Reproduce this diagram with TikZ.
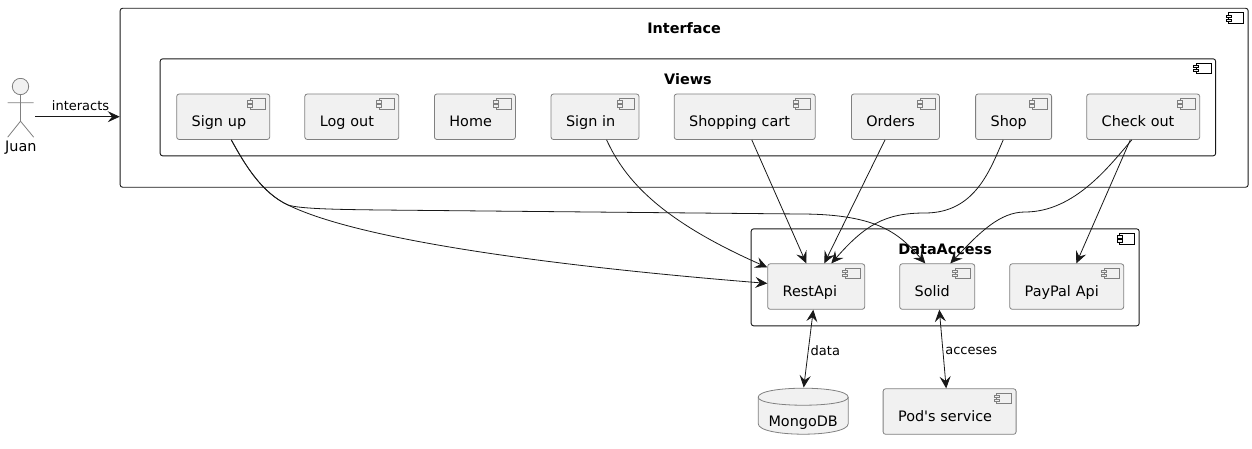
\documentclass[tikz,border=0pt]{standalone}
\usepackage{fontspec}
\setmainfont{DejaVu Sans}[Ligatures=TeXOff]
\usetikzlibrary{arrows.meta}
\definecolor{boxfill}{HTML}{F1F1F1}
\definecolor{boxline}{HTML}{808080}
\definecolor{inkline}{HTML}{181818}
\begin{document}
\begin{tikzpicture}[x=1pt,y=-1pt]
\tikzset{compicon/.style={path picture={
  \draw[#1,line width=0.7pt,sharp corners,fill=none] ([shift={(-19.5,4.5)}]path picture bounding box.north east) rectangle ([shift={(-4.5,15)}]path picture bounding box.north east);
  \draw[#1,line width=0.7pt,sharp corners,fill=boxfill] ([shift={(-22,6.8)}]path picture bounding box.north east) rectangle ([shift={(-17,9)}]path picture bounding box.north east);
  \draw[#1,line width=0.7pt,sharp corners,fill=boxfill] ([shift={(-22,10.8)}]path picture bounding box.north east) rectangle ([shift={(-17,13)}]path picture bounding box.north east);
}}}
\tikzset{compo/.style={draw=boxline, fill=boxfill, line width=0.8pt, rounded corners=2.5pt, anchor=north west, inner ysep=0pt, inner xsep=15pt, align=left, text width=#1-30pt, text height=33pt, text depth=12.5pt, compicon=boxline}}
\tikzset{groupe/.style 2 args={draw=inkline, line width=0.9pt, rounded corners=2.5pt, anchor=north west, inner sep=0pt, align=center, font=\bfseries, text width=#1, text height=25.5pt, text depth=#2-25.5pt, compicon=black}}
\tikzset{lien/.style={draw=inkline, line width=0.8pt, -{Stealth[length=12pt,width=11pt,inset=4.5pt]}}}
\tikzset{lienbi/.style={lien, {Stealth[length=12pt,width=11pt,inset=4.5pt]}-{Stealth[length=12pt,width=11pt,inset=4.5pt]}}}
\tikzset{etiquette/.style={inner sep=1pt, font=\fontsize{13}{15}\selectfont}}
% path picture coordinates start at the left end of the text baseline
\tikzset{acteur/.style={inner sep=0pt, anchor=north west, align=center, text width=30pt, text height=73pt, text depth=4pt, path picture={
  \draw[boxline,line width=0.8pt,fill=boxfill] (15.3,-64.7) circle (8.2);
  \draw[boxline,line width=0.8pt] (15.3,-56.5) -- (15.3,-30) -- (2.5,-14) (15.3,-30) -- (28.5,-14) (2.5,-48.5) -- (28.5,-48.5);
}}}
\tikzset{base/.style={inner sep=0pt, anchor=north west, align=center, text width=91pt, text height=38.5pt, text depth=8.5pt, path picture={
  \draw[boxline,line width=0.8pt,fill=boxfill] (0.5,-29) .. controls (0.5,-41) and (90.5,-41) .. (90.5,-29) -- (90.5,-2.5) .. controls (90.5,11.5) and (0.5,11.5) .. (0.5,-2.5) -- cycle;
  \draw[boxline,line width=0.8pt] (0.5,-29) .. controls (0.5,-18.3) and (90.5,-18.3) .. (90.5,-29);
}}}
\useasboundingbox (0,0) rectangle (1252,449);
\fontsize{14.4}{16}\selectfont
\node[acteur] (juan) at (5,78) {Juan};
\node[groupe={1128pt}{179pt}] (interface) at (119.7,7.8) {Interface};
\node[groupe={1055.5pt}{97pt}] (views) at (159.7,58.4) {Views};
\node[groupe={388pt}{97pt}] (dataaccess) at (750.7,228.4) {DataAccess};
\node[compo=93pt] (signup) at (176.3,93.6) {Sign up};
\node[compo=94pt] (logout) at (304.4,93.6) {Log out};
\node[compo=81pt] (home) at (434,93.6) {Home};
\node[compo=88pt] (signin) at (550.6,93.6) {Sign in};
\node[compo=141pt] (cart) at (673.8,93.6) {Shopping cart};
\node[compo=88pt] (orders) at (851,93.6) {Orders};
\node[compo=76pt] (shop) at (975.2,93.6) {Shop};
\node[compo=113pt] (checkout) at (1086.3,93.6) {Check out};
\node[compo=97pt] (restapi) at (767.3,263.4) {RestApi};
\node[compo=75pt] (solid) at (899.3,263.4) {Solid};
\node[compo=114pt] (paypal) at (1009.3,263.4) {PayPal Api};
\node[compo=133pt] (pods) at (882.7,388.4) {Pod's service};
\node[base] (mongo) at (757.5,387.5) {MongoDB};
\draw[lien] (juan.east) -- node[etiquette, above=4.5pt, xshift=3pt] (interacts) {interacts} (interface.west |- juan.east);
\draw[lien] ([xshift=55pt]signup.south west) .. controls (245,165) and (262,193) .. (288,205) .. controls (300,209) and (340,209.5) .. (381,210) -- (800,214) .. controls (880,214) and (900,235) .. ([xshift=26pt]solid.north west);
\draw[lien] ([xshift=55pt]signup.south west) .. controls (245,165) and (262,193) .. (288,205) .. controls (370,245) and (600,270) .. ([yshift=-20pt]restapi.north west);
\draw[lien] ([xshift=56pt]signin.south west) .. controls (625,180) and (660,220) .. ([yshift=-4pt]restapi.north west);
\draw[lien] ([xshift=78pt]cart.south west) -- ([xshift=39pt]restapi.north west);
\draw[lien] ([xshift=34pt]orders.south west) -- ([xshift=57pt]restapi.north west);
\draw[lien] ([xshift=28pt]shop.south west) .. controls (990,170) and (975,213) .. (925,213) .. controls (885,213) and (865,225) .. ([xshift=64pt]restapi.north west);
\draw[lien] ([xshift=45.5pt]checkout.south west) .. controls (1110,165) and (1075,212) .. (1025,212) .. controls (1000,212) and (980,232) .. ([xshift=51pt]solid.north west);
\draw[lien] ([xshift=44pt]checkout.south west) -- ([xshift=67pt]paypal.north west);
\draw[lienbi] ([xshift=46pt]restapi.south west) -- node[etiquette, right=1pt, pos=0.52] (data) {data} ([xshift=0.5pt]mongo.north);
\draw[lienbi] ([xshift=40pt]solid.south west) -- node[etiquette, right=1pt, pos=0.52] (acceses) {acceses} ([xshift=63.5pt]pods.north west);
\end{tikzpicture}
\end{document}
